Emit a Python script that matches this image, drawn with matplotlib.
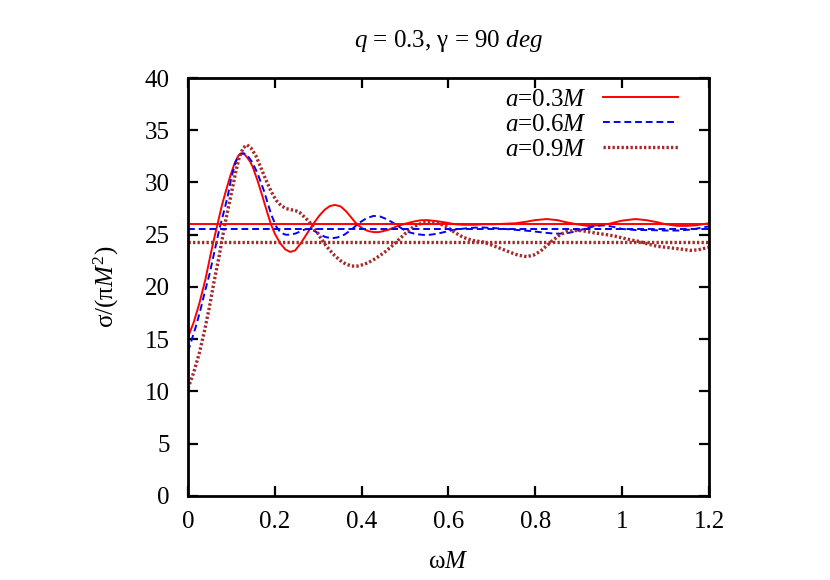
import matplotlib
matplotlib.use("Agg")
import matplotlib.pyplot as plt

plt.rcParams['font.family'] = ['Liberation Serif', 'DejaVu Serif']
plt.rcParams['mathtext.fontset'] = 'custom'
plt.rcParams['mathtext.rm'] = 'Liberation Serif'
plt.rcParams['mathtext.it'] = 'Liberation Serif:italic'

# ---- data ----
x_a03 = [0, 0.013, 0.026, 0.04, 0.053, 0.06, 0.068, 0.078, 0.088, 0.098, 0.107, 0.115,
         0.122, 0.129, 0.136, 0.143, 0.149, 0.16, 0.172, 0.182, 0.191, 0.2, 0.212, 0.224,
         0.235, 0.247, 0.26, 0.274, 0.288, 0.302, 0.315, 0.327, 0.339, 0.352, 0.365, 0.377,
         0.389, 0.402, 0.415, 0.428, 0.44, 0.46, 0.481, 0.5, 0.519, 0.535, 0.55, 0.573,
         0.596, 0.615, 0.634, 0.66, 0.68, 0.705, 0.73, 0.755, 0.78, 0.8, 0.826, 0.85, 0.87,
         0.895, 0.92, 0.945, 0.97, 1.0, 1.03, 1.055, 1.08, 1.1, 1.126, 1.15, 1.17, 1.185, 1.2]
y_a03 = [15.2, 16.6, 18.4, 20.7, 23.3, 24.6, 26.0, 27.8, 29.3, 30.7, 31.8, 32.5,
         32.8, 32.75, 32.4, 32.0, 31.5, 30.2, 28.6, 27.2, 26.0, 25.1, 24.2, 23.6,
         23.35, 23.5, 24.2, 25.1, 26.0, 26.8, 27.4, 27.75, 27.85, 27.7, 27.2, 26.6,
         26.0, 25.6, 25.35, 25.25, 25.25, 25.45, 25.8, 26.05, 26.25, 26.38, 26.4, 26.3,
         26.15, 26.0, 25.95, 25.95, 26.0, 26.0, 26.05, 26.1, 26.25, 26.4, 26.5, 26.4, 26.2,
         26.0, 25.85, 25.9, 26.05, 26.35, 26.5, 26.4, 26.2, 26.0, 25.85, 25.85, 25.9, 26.0, 26.1]

x_a06 = [0, 0.009, 0.018, 0.028, 0.038, 0.05, 0.061, 0.072, 0.082, 0.091, 0.1, 0.11,
         0.118, 0.127, 0.134, 0.14, 0.147, 0.153, 0.16, 0.167, 0.175, 0.183, 0.192, 0.203,
         0.213, 0.225, 0.237, 0.25, 0.262, 0.273, 0.287, 0.3, 0.315, 0.331, 0.345, 0.36,
         0.377, 0.393, 0.41, 0.427, 0.442, 0.457, 0.47, 0.483, 0.496, 0.512, 0.527, 0.543,
         0.558, 0.575, 0.59, 0.61, 0.627, 0.65, 0.673, 0.7, 0.73, 0.76, 0.79, 0.82, 0.84,
         0.857, 0.88, 0.9, 0.92, 0.94, 0.96, 0.98, 1.0, 1.03, 1.06, 1.1, 1.13, 1.16, 1.18, 1.2]
y_a06 = [13.8, 15.0, 16.2, 17.7, 19.4, 21.3, 23.4, 25.5, 27.1, 28.6, 30.5, 32.0,
         32.6, 32.8, 32.7, 32.4, 32.0, 31.5, 30.9, 30.1, 29.2, 28.1, 26.9, 25.8,
         25.2, 25.0, 25.0, 25.15, 25.4, 25.55, 25.45, 25.15, 24.8, 24.65, 24.75, 25.0,
         25.5, 26.1, 26.55, 26.8, 26.75, 26.5, 26.2, 25.85, 25.5, 25.2, 25.05, 24.98,
         25.0, 25.1, 25.25, 25.45, 25.55, 25.65, 25.7, 25.65, 25.55, 25.45, 25.35, 25.2, 25.12,
         25.1, 25.2, 25.4, 25.65, 25.85, 25.9, 25.75, 25.55, 25.45, 25.45, 25.4, 25.4, 25.5, 25.65, 25.8]

x_a09 = [0, 0.013, 0.026, 0.038, 0.049, 0.06, 0.072, 0.084, 0.094, 0.103, 0.111, 0.118,
         0.127, 0.136, 0.145, 0.157, 0.168, 0.18, 0.192, 0.203, 0.214, 0.226, 0.237, 0.248,
         0.258, 0.268, 0.278, 0.288, 0.298, 0.307, 0.317, 0.327, 0.338, 0.35, 0.363, 0.377,
         0.39, 0.4, 0.414, 0.427, 0.442, 0.455, 0.468, 0.481, 0.5, 0.519, 0.538, 0.558,
         0.577, 0.596, 0.615, 0.634, 0.655, 0.68, 0.7, 0.719, 0.74, 0.76, 0.78, 0.796,
         0.811, 0.825, 0.84, 0.857, 0.872, 0.887, 0.905, 0.92, 0.94, 0.965, 0.985, 1.0,
         1.02, 1.04, 1.06, 1.08, 1.1, 1.12, 1.14, 1.157, 1.175, 1.19, 1.2]
y_a09 = [10.3, 11.8, 13.65, 15.8, 18.0, 20.5, 23.0, 25.8, 27.8, 29.6, 31.2, 32.4,
         33.3, 33.6, 33.3, 32.5, 31.4, 30.2, 29.1, 28.3, 27.8, 27.5, 27.4, 27.3,
         27.1, 26.7, 26.3, 25.8, 25.2, 24.6, 24.0, 23.5, 23.0, 22.55, 22.2, 22.0,
         22.0, 22.1, 22.3, 22.6, 23.0, 23.4, 23.85, 24.35, 25.1, 25.75, 26.1, 26.25,
         26.1, 25.75, 25.2, 24.75, 24.45, 24.3, 24.0, 23.7, 23.35, 23.05, 22.9, 23.05,
         23.4, 23.9, 24.45, 25.0, 25.3, 25.4, 25.4, 25.3, 25.15, 25.0, 24.85, 24.7,
         24.5, 24.35, 24.1, 23.9, 23.8, 23.7, 23.6, 23.5, 23.55, 23.7, 23.8]

# horizontal reference levels
h_a03 = 26.03
h_a06 = 25.5
h_a09 = 24.3

labels = [r'$a$=0.3$M$', r'$a$=0.6$M$', r'$a$=0.9$M$']
xticks = [0, 0.2, 0.4, 0.6, 0.8, 1.0, 1.2]
xticklabels = ['0', '0.2', '0.4', '0.6', '0.8', '1', '1.2']
yticks = list(range(0, 45, 5))

red = '#ff0000'
blue = '#0000ff'
brown = '#a52a2a'
dash = (0, (3.5, 2.0))
dots = (0, (0.7, 0.65))

fig = plt.figure(figsize=(8.3, 5.8), dpi=100)
ax = fig.add_axes([0.2265, 0.145, 0.6277, 0.7205])

ax.plot(x_a03, y_a03, color=red, lw=1.4, label=labels[0])
ax.plot(x_a06, y_a06, color=blue, lw=1.4, ls=dash, label=labels[1])
ax.plot(x_a09, y_a09, color=brown, lw=2.4, ls=dots, label=labels[2])

ax.axhline(h_a03, color=red, lw=1.4)
ax.axhline(h_a06, color=blue, lw=1.4, ls=dash)
ax.axhline(h_a09, color=brown, lw=2.4, ls=dots)

ax.set_xlim(0, 1.2)
ax.set_ylim(0, 40)
ax.set_xticks(xticks)
ax.set_xticklabels(xticklabels)
ax.set_yticks(yticks)
ax.tick_params(direction='in', length=7, width=1.6, top=True, right=True,
               labelsize=18)
ax.tick_params(axis='y', pad=13)
ax.tick_params(axis='x', pad=11)
for s in ax.spines.values():
    s.set_linewidth(2.0)

ax.set_xlabel(r'ω$M$', fontsize=18, labelpad=13)
ax.set_ylabel(r'σ/(π$M^2$)', fontsize=18, labelpad=17)
ax.set_title(r'$q$ = 0.3, γ = 90 $deg$', fontsize=18, pad=22)

leg = ax.legend(loc='upper right', markerfirst=False, frameon=False, fontsize=18,
                handlelength=3.0, handletextpad=0.65, labelspacing=0.1,
                borderaxespad=0.0, borderpad=0.0, bbox_to_anchor=(0.9405, 0.976))

fig.savefig('out.png', dpi=100)
